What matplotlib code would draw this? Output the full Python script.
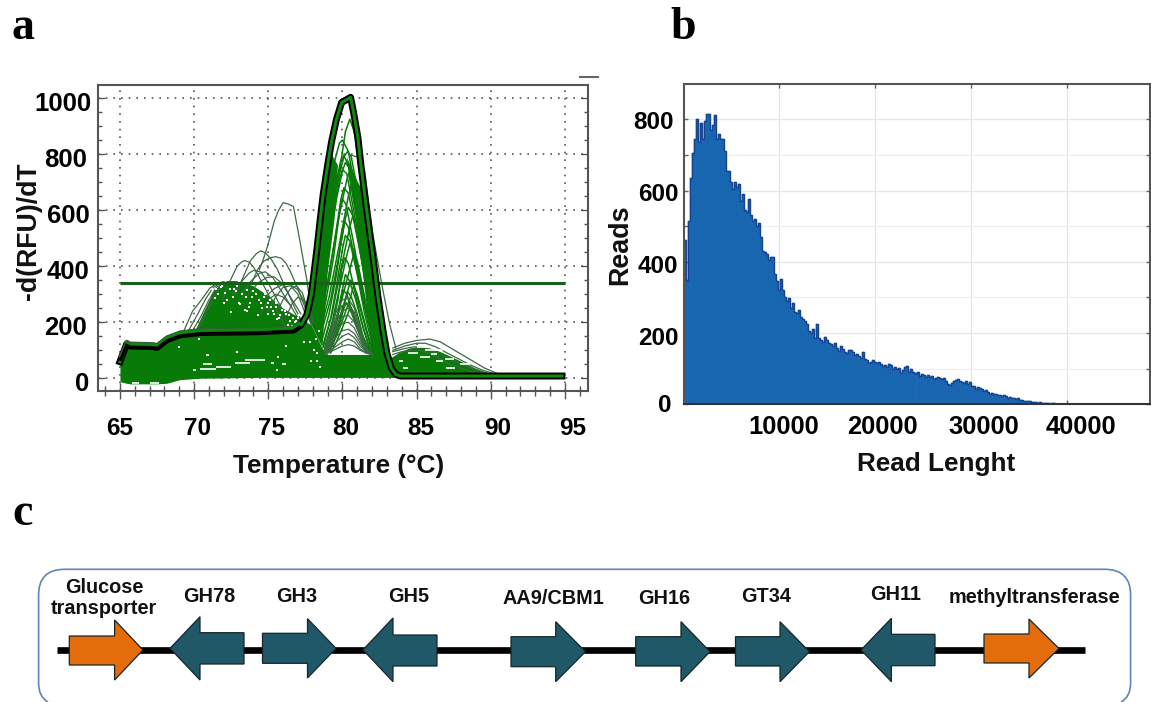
import matplotlib
matplotlib.use("Agg")
import matplotlib.pyplot as plt
from matplotlib.patches import Polygon, PathPatch
from matplotlib.path import Path
from matplotlib.transforms import ScaledTranslation
from matplotlib.ticker import MultipleLocator

W, H = 1151, 702
plt.rcParams['font.family'] = ['Liberation Sans', 'DejaVu Sans']
plt.rcParams['font.weight'] = 'bold'

# ---------- panel a data ----------
MAIN_T = [65, 65.45, 65.7, 67.25, 67.5, 68.15, 69.05, 70.4, 74.4, 76.7, 77.2, 77.6, 77.9, 78.26, 78.5, 78.7, 79, 79.27, 79.6,
          79.95, 80.2, 80.55, 80.75, 81.05, 81.25, 81.5, 81.8, 82.07, 82.4, 82.75, 83, 83.3, 83.6, 83.9, 94.8]
MAIN_V = [59, 122, 115, 113, 110, 137, 155, 163, 166, 172, 190, 226, 297, 452, 565, 655, 760, 845, 925,
          985, 992, 1003, 950, 858, 760, 655, 535, 429, 290, 166, 90, 36, 14, 8, 8]
FLAT_T = [65.05, 65.45, 65.7, 67.25, 67.5, 68.15, 69.05, 70.4, 74.4, 76.7, 77.1]
FLAT_V = [70, 122, 115, 113, 110, 137, 155, 163, 166, 172, 186]
BASE_T = [65, 65.45, 65.7, 67.25, 67.5, 68.15, 69.05, 70.4, 74.4, 76.7, 77.2, 77.6, 77.9, 78.26, 78.6, 79.0, 81.8, 82.2, 82.75, 83.3, 83.9]
BASE_TOP = [59, 122, 115, 113, 110, 137, 155, 163, 166, 172, 190, 200, 190, 150, 110, 85, 85, 150, 166, 36, 8]
BASE_BOT = [-12, -18, -20, -20, -20, -18, -5, 0, 3, 3, 3, 3, 3, 3, 3, 3, 3, 3, 3, 3, 3]
DENSE_T = [70, 70.7, 71.3, 71.7, 72.3, 73, 74, 75, 76, 77, 77.6]
DENSE_V = [165, 245, 312, 332, 345, 345, 330, 295, 250, 220, 205]
LEFT_WALL_T = [77.6, 77.9, 78.26, 78.7, 79.27, 79.7, 79.45, 79.0, 78.65]
LEFT_WALL_V = [226, 297, 452, 655, 800, 760, 560, 370, 110]
RIGHT_WALL_T = [80.3, 81.05, 81.5, 82.07, 82.75, 83.0, 82.0, 81.55, 81.0, 80.45]
RIGHT_WALL_V = [790, 700, 655, 429, 166, 60, 95, 300, 540, 710]
HUMP_T = [83.3, 83.9, 84.5, 85.2, 85.9, 86.6, 87.3, 88.1, 88.9, 89.6, 90.4]
HUMP_V = [75, 95, 108, 114, 108, 95, 78, 58, 38, 24, 10]

# tall melting peaks, one row per well
PEAK_T = [
    [78.0, 78.7, 79.4, 79.8, 80.0, 80.4, 81.0, 81.8, 82.6],
    [78.2, 79.0, 79.7, 80.2, 80.5, 80.8, 81.3, 82.0, 82.8],
    [78.0, 78.8, 79.6, 80.1, 80.35, 80.6, 81.2, 81.9, 82.7],
    [78.1, 78.8, 79.5, 79.9, 80.1, 80.5, 81.0, 81.8, 82.5],
    [78.3, 78.9, 79.6, 80.0, 80.2, 80.6, 81.2, 81.8, 82.6],
    [78.2, 78.9, 79.4, 79.8, 80.0, 80.3, 81.0, 81.6, 82.4],
    [78.4, 79.0, 79.7, 80.3, 80.5, 80.8, 81.3, 81.9, 82.5],
    [78.3, 79.0, 79.5, 79.9, 80.1, 80.4, 81.0, 81.7, 82.4],
    [78.5, 79.1, 79.8, 80.4, 80.6, 80.9, 81.3, 81.9, 82.6],
    [78.4, 78.9, 79.4, 79.8, 80.0, 80.25, 80.8, 81.5, 82.2],
    [78.5, 79.2, 79.7, 80.2, 80.4, 80.7, 81.2, 81.8, 82.4],
    [78.6, 79.1, 79.6, 79.95, 80.15, 80.4, 80.9, 81.5, 82.2],
    [78.7, 79.3, 79.9, 80.5, 80.7, 81.0, 81.4, 81.9, 82.4],
    [78.7, 79.2, 79.6, 80.0, 80.2, 80.5, 81.0, 81.5, 82.1],
    [78.8, 79.3, 79.8, 80.3, 80.5, 80.75, 81.2, 81.7, 82.2],
    [78.8, 79.3, 79.7, 79.95, 80.15, 80.4, 80.8, 81.3, 81.9],
    [78.9, 79.4, 80.0, 80.55, 80.75, 81.0, 81.35, 81.8, 82.3],
    [78.9, 79.4, 79.75, 80.05, 80.2, 80.45, 80.9, 81.4, 81.9],
    [79.0, 79.5, 79.95, 80.4, 80.55, 80.8, 81.15, 81.6, 82.0],
    [79.0, 79.4, 79.7, 79.9, 80.05, 80.3, 80.7, 81.2, 81.7],
    [79.1, 79.6, 80.1, 80.6, 80.75, 81.0, 81.3, 81.7, 82.1],
    [79.0, 79.5, 79.85, 80.2, 80.35, 80.6, 81.0, 81.4, 81.9],
    [79.0, 79.45, 79.8, 80.1, 80.25, 80.45, 80.85, 81.3, 81.8],
    [79.2, 79.6, 80.0, 80.4, 80.55, 80.75, 81.1, 81.5, 81.9],
]
PEAK_V = [
    [240, 500, 760, 840, 850, 810, 640, 330, 90],
    [230, 430, 700, 880, 925, 880, 680, 350, 90],
    [230, 470, 690, 790, 810, 790, 620, 340, 90],
    [225, 450, 680, 780, 795, 750, 600, 300, 100],
    [210, 400, 640, 740, 770, 740, 570, 330, 90],
    [200, 390, 590, 710, 745, 730, 530, 340, 100],
    [200, 340, 560, 710, 740, 710, 560, 320, 130],
    [180, 340, 500, 640, 680, 660, 510, 300, 110],
    [170, 290, 480, 650, 690, 660, 540, 320, 110],
    [170, 280, 430, 590, 640, 620, 470, 270, 100],
    [150, 280, 420, 570, 610, 580, 450, 270, 120],
    [130, 230, 370, 500, 560, 540, 410, 250, 100],
    [120, 230, 390, 540, 580, 550, 440, 280, 130],
    [110, 210, 330, 460, 510, 490, 370, 230, 100],
    [110, 200, 320, 440, 480, 460, 350, 220, 100],
    [100, 180, 280, 390, 430, 410, 320, 200, 95],
    [100, 170, 290, 400, 440, 420, 330, 210, 100],
    [100, 170, 250, 330, 370, 350, 280, 180, 95],
    [95, 160, 240, 320, 350, 330, 260, 170, 95],
    [95, 150, 220, 290, 315, 300, 230, 150, 90],
    [95, 150, 220, 300, 330, 300, 240, 160, 90],
    [95, 145, 210, 280, 310, 290, 230, 150, 90],
    [90, 135, 190, 250, 270, 255, 200, 135, 90],
    [90, 130, 180, 235, 255, 235, 190, 130, 90],
]
ARC_T = [78.8, 79.2, 79.6, 80, 80.4, 80.8, 81.2, 81.6, 82]
ARC_ROWS = [
    [100, 170, 240, 280, 285, 250, 180, 110, 85],
    [95, 160, 220, 260, 265, 235, 170, 105, 85],
    [95, 150, 205, 240, 250, 220, 160, 100, 85],
    [90, 135, 185, 220, 225, 200, 150, 100, 85],
    [90, 125, 170, 195, 200, 180, 135, 95, 85],
    [90, 115, 150, 170, 175, 160, 125, 95, 85],
    [85, 105, 130, 150, 160, 145, 115, 95, 85],
    [85, 100, 115, 130, 140, 130, 105, 90, 85],
    [85, 95, 105, 115, 120, 115, 100, 90, 85],
]
THIN_T = [
    [74.4, 74.7, 75.0, 75.4, 75.7, 76, 76.35, 76.7, 77.1, 77.6, 78],
    [71.9, 72.4, 72.9, 73.2, 73.4, 73.7, 74.0, 74.4, 75, 75.6, 76.2],
    [72.8, 73.3, 73.8, 74.2, 74.5, 74.8, 75.2, 75.6, 76.2, 76.8, 77.4],
    [73.8, 74.3, 74.7, 75.1, 75.5, 75.9, 76.2, 76.5, 77, 77.5, 77.9],
    [72.6, 73.2, 73.7, 74, 74.5, 75, 75.5, 76.2],
    [73.2, 73.8, 74.4, 74.8, 75.3, 75.9, 76.5],
    [73.7, 74.3, 74.9, 75.4, 75.9, 76.5, 77.2],
    [74.8, 75.4, 76, 76.5, 77, 77.5, 77.9],
    [75.0, 75.5, 76.0, 76.5, 77.0, 77.5],
    [75.6, 76.0, 76.5, 76.9, 77.3, 77.7],
    [74.5, 75.0, 75.5, 76.0, 76.5, 77.0],
    [76.2, 76.6, 77.0, 77.4, 77.8],
    [69.3, 69.9, 70.5, 71.06, 71.5, 72],
    [69.6, 70.2, 70.8, 71.3, 71.8, 72.4],
    [69.9, 70.5, 71, 71.5, 72.1, 72.6],
    [70.2, 70.7, 71.2, 71.7, 72.3, 72.9],
    [80.4, 81, 81.5, 82.06, 82.75, 83.2, 83.6],
    [83.4, 84.2, 85, 85.9, 86.6, 87.3, 88.1, 88.9, 89.6, 90.4],
    [83.4, 84.2, 85, 85.6, 86.3, 87, 87.8, 88.6, 89.4, 90.2],
    [83.4, 84.1, 84.8, 85.3, 86, 86.8, 87.6, 88.4, 89.2, 90],
    [83.4, 84, 84.7, 85.2, 85.8, 86.5, 87.2, 88, 88.8, 89.8],
]
THIN_V = [
    [387, 430, 480, 560, 600, 627, 622, 613, 500, 351, 200],
    [280, 345, 400, 415, 420, 415, 398, 360, 300, 240, 180],
    [300, 360, 420, 445, 455, 448, 425, 390, 320, 250, 190],
    [330, 390, 418, 430, 434, 428, 410, 380, 320, 250, 190],
    [300, 345, 375, 385, 380, 340, 290, 220],
    [300, 345, 375, 380, 360, 310, 260],
    [300, 340, 360, 362, 340, 290, 230],
    [290, 320, 335, 335, 315, 270, 220],
    [240, 290, 325, 330, 300, 230],
    [240, 280, 320, 330, 305, 240],
    [230, 280, 300, 290, 260, 215],
    [220, 265, 290, 275, 225],
    [168, 240, 280, 322, 338, 345],
    [168, 225, 285, 325, 340, 345],
    [170, 225, 280, 325, 340, 345],
    [170, 220, 275, 320, 345, 345],
    [800, 790, 738, 511, 309, 190, 108],
    [108, 125, 135, 140, 130, 108, 83, 58, 36, 18],
    [100, 115, 125, 125, 112, 92, 70, 48, 30, 16],
    [95, 105, 112, 112, 100, 80, 60, 42, 26, 14],
    [85, 95, 100, 100, 90, 72, 52, 36, 22, 12],
]
SPECK_T = [71.2, 71.6, 71.8, 72.1, 72.4, 72.6, 72.9, 73.2, 73.4, 73.6, 73.9, 74.2, 74.5, 74.7, 74.9, 75.1, 75.3, 75.5, 75.7,
           75.9, 76.1, 76.2, 76.4, 76.5, 76.7, 76.9, 77, 77.2, 77.3, 72.5, 73, 73.7, 74.3, 75, 75.6, 76.3, 76.8, 77.1,
           77.8, 78.1, 78.3, 77.9, 78.2, 70.3, 69, 72.9, 75.6, 76.2, 77.4, 78.4, 78.5, 78.3,
           71.4, 72.0, 72.3, 72.8, 73.1, 73.5, 74.0, 74.4, 74.8, 75.2, 75.8, 76.0, 71.9, 72.7, 73.3, 73.8, 74.6, 75.4,
           71.0, 71.5, 72.2, 73.6, 75.0, 75.5, 76.6, 77.0]
SPECK_V = [320, 300, 325, 305, 320, 290, 330, 300, 245, 315, 290, 300, 270, 290, 255, 280, 240, 270, 215,
           245, 240, 230, 225, 205, 215, 205, 215, 200, 200, 235, 270, 255, 225, 230, 210, 190, 200, 225,
           130, 100, 60, 60, 140, 140, 110, 95, 30, 115, 130, 170, 40, 90,
           285, 270, 335, 310, 265, 290, 310, 280, 300, 255, 225, 260, 330, 320, 335, 270, 250, 230,
           290, 320, 280, 240, 270, 255, 185, 190]
DASH_T0 = [70.4, 69.9, 71.5, 72.75, 73.4, 70.6, 70.8, 75.2, 75.9, 75.6, 65.8, 67, 83.8, 85.0, 85.2, 86.3, 87, 84.1, 86,
           85.6, 84.4, 87.9, 86.9]
DASH_T1 = [71.5, 70.1, 72.5, 73.8, 74.8, 71.2, 71.0, 75.4, 76.2, 75.7, 66.3, 67.6, 84.1, 85.8, 85.9, 86.8, 87.6, 84.4, 86.4,
           86.8, 85.1, 88.6, 87.5]
DASH_V = [32, 30, 41, 56, 65, 51, 83, 55, 50, 75, -17, -17, 60, 112, 75, 60, 38, 35, 85,
          102, 90, 50, 70]
Y_TICKS_A = [0, 200, 400, 600, 800, 1000]
X_TICKS_A = [65, 70, 75, 80, 85, 90, 95]
THRESHOLD = 340

# ---------- panel b data ----------
READS = [460, 350, 515, 635, 705, 745, 800, 735, 790, 745, 795, 815, 815, 770, 785, 812, 745, 760, 745, 745, 710, 655, 655,
         625, 605, 625, 610, 618, 570, 590, 545, 540, 575, 530, 515, 520, 500, 510, 470, 430, 428, 423, 405, 414, 414, 367,
         345, 320, 353, 320, 300, 290, 298, 270, 285, 260, 255, 265, 245, 240, 235, 225, 205, 200, 210, 185, 225, 185, 180,
         175, 190, 180, 172,
         170, 165, 172, 158, 150, 163, 155, 148, 143, 152,
         152, 148, 138, 142, 135, 130, 147, 128, 125, 115,
         120, 124, 118, 115, 120, 112, 108, 110, 105, 112,
         110, 100, 105, 98, 102, 88, 95, 105, 107, 92,
         98, 92, 88, 84, 90, 80, 85, 81, 78, 82,
         76, 80, 72, 75, 78, 73, 70, 74, 65, 58,
         55, 60, 66, 68, 70, 64, 62, 60, 65, 58,
         63, 50, 52, 44, 48, 46, 42, 38, 40, 34,
         30, 33, 28, 30, 26, 25, 22, 25, 22, 18,
         20, 17, 18, 15, 19, 12, 13, 10, 9, 10,
         8, 7, 7, 6, 5, 6, 4, 3, 3, 3,
         2, 3, 3, 2, 2, 1, 2, 2, 1, 1,
         1, 1, 1, 2, 1, 1, 0, 1, 1, 0,
         0, 1, 0, 1, 0, 0]
BIN_START = 132
BIN_WIDTH = 208
X_TICKS_B = [10000, 20000, 30000, 40000]
Y_TICKS_B = [0, 200, 400, 600, 800]

# ---------- panel c data ----------
GENE_NAMES = ["Glucose\ntransporter", "GH78", "GH3", "GH5", "AA9/CBM1", "GH16", "GT34", "GH11", "methyltransferase"]
GENE_LABEL_X = [104, 209, 297, 409, 553, 664, 766.5, 896, 1034]
GENE_LABEL_Y = [598, 597, 597, 597, 598, 598, 596, 594, 597.5]
GENE_TAIL = [69.3, 244, 262.5, 437, 511, 635.7, 735.5, 935, 984]
GENE_NECK = [114.6, 200, 307.5, 393, 555.7, 681, 780, 891.4, 1029]
GENE_TIP = [143, 170, 336, 363, 585.5, 710, 809.4, 861, 1059]
GENE_SHAFT_TOP = [636, 632.7, 633.3, 635, 636.7, 636.7, 636.7, 634.3, 634]
GENE_SHAFT_BOT = [665, 664, 663.3, 666, 666.7, 666, 666, 665.7, 663]
GENE_HEAD_TOP = [620, 616.7, 618.7, 618, 621.7, 621.7, 621.7, 618.3, 619]
GENE_HEAD_BOT = [680, 680, 678, 681.7, 681.7, 681.7, 681.7, 681.7, 678]
GENE_COLOR = ['#E46C0A', '#215868', '#215868', '#215868', '#215868', '#215868', '#215868', '#215868', '#E46C0A']

GREEN = '#087a08'
DGREEN = '#17601a'
THIN = '#3d6a44'
LABEL = dict(fontweight='bold')


def axes_px(left, top, right, bottom):
    return fig.add_axes([left / W, 1 - bottom / H, (right - left) / W, (bottom - top) / H])


def nudge(labels, dx, dy):
    for lab, a, b in zip(labels, dx, dy):
        lab.set_transform(lab.get_transform() + ScaledTranslation(a / 100, -b / 100, fig.dpi_scale_trans))


fig = plt.figure(figsize=(W / 100, H / 100), dpi=100, facecolor='white')

# ---------- overlay (panel c + letters) ----------
ov = fig.add_axes([0, 0, 1, 1], zorder=0)
ov.set_xlim(0, W)
ov.set_ylim(H, 0)
ov.axis('off')
box_verts = [(48, 702), (38.6, 697), (38.6, 683), (38.6, 595), (38.6, 569.3), (64.6, 569.3), (1104.6, 569.3),
             (1130.6, 569.3), (1130.6, 595), (1130.6, 683), (1130.6, 697), (1121, 702)]
box_codes = [Path.MOVETO, Path.CURVE3, Path.CURVE3, Path.LINETO, Path.CURVE3, Path.CURVE3, Path.LINETO,
             Path.CURVE3, Path.CURVE3, Path.LINETO, Path.CURVE3, Path.CURVE3]
ov.add_patch(PathPatch(Path(box_verts, box_codes), fc='none', ec='#5f86b2', lw=1.2))
ov.plot([57.5, 1085], [650, 650], color='black', lw=4.8, solid_capstyle='butt')
for i, name in enumerate(GENE_NAMES):
    xs = [GENE_TAIL[i], GENE_NECK[i], GENE_NECK[i], GENE_TIP[i], GENE_NECK[i], GENE_NECK[i], GENE_TAIL[i]]
    mid = (GENE_HEAD_TOP[i] + GENE_HEAD_BOT[i]) / 2
    ys = [GENE_SHAFT_TOP[i], GENE_SHAFT_TOP[i], GENE_HEAD_TOP[i], mid, GENE_HEAD_BOT[i], GENE_SHAFT_BOT[i], GENE_SHAFT_BOT[i]]
    ov.add_patch(Polygon(list(zip(xs, ys)), closed=True, fc=GENE_COLOR[i], ec='#16262b', lw=0.9, zorder=3))
    ov.text(GENE_LABEL_X[i], GENE_LABEL_Y[i], name, ha='center', va='center', fontsize=14.3, linespacing=1.16,
            color='#111111', **LABEL)
for ch, x, y in [('a', 12, 39), ('b', 670, 39), ('c', 12, 525)]:
    ov.text(x, y, ch, family=['Liberation Serif'], fontsize=33, fontweight='bold', ha='left', va='baseline', color='black')
ov.plot([580, 598], [77, 77], color='#666666', lw=1.5)

# ---------- panel a ----------
ax = axes_px(98, 85, 588, 391)
ax.set_zorder(2)
ax.set_xlim(63.52, 96.56)
ax.set_ylim(-45.5, 1047)
ax.set_xticks(X_TICKS_A)
ax.set_yticks(Y_TICKS_A)
ax.xaxis.set_minor_locator(MultipleLocator(1))
ax.yaxis.set_minor_locator(MultipleLocator(50))
ax.grid(True, which='major', color='#555555', ls=(0, (1, 3.6)), lw=1.2, zorder=0)
ax.set_axisbelow(True)
for s in ax.spines.values():
    s.set_color('#555555')
    s.set_linewidth(1.5)
ax.tick_params(axis='x', which='major', direction='inout', length=11, width=1, color='#555555', labelsize=17.5, pad=13)
ax.tick_params(axis='x', which='minor', direction='inout', length=7, width=1, color='#555555')
ax.tick_params(axis='y', which='major', direction='in', length=5, width=1, color='#555555', labelsize=18.5, pad=6,
               right=True)
ax.tick_params(axis='y', which='minor', direction='in', length=3, width=1, color='#555555', right=True)
ax.fill_between(BASE_T, BASE_BOT, BASE_TOP, color=GREEN, lw=0, zorder=2)
ax.fill_between(DENSE_T, 100, DENSE_V, color=GREEN, lw=0, zorder=2)
ax.fill(LEFT_WALL_T, LEFT_WALL_V, color=GREEN, lw=0, zorder=2)
ax.fill(RIGHT_WALL_T, RIGHT_WALL_V, color=GREEN, lw=0, zorder=2)
ax.fill_between(HUMP_T, 5, HUMP_V, color=GREEN, lw=0, zorder=2)
for t, v in zip(PEAK_T, PEAK_V):
    ax.plot(t, v, color=GREEN, lw=1.1, zorder=2.2)
for row in ARC_ROWS:
    ax.plot(ARC_T, row, color=THIN, lw=0.9, zorder=2.2)
for t, v in zip(THIN_T, THIN_V):
    ax.plot(t, v, color=THIN, lw=0.9, zorder=2.2)
ax.scatter(SPECK_T, SPECK_V, s=2.2, c='white', marker='s', lw=0, zorder=2.6)
ax.hlines(DASH_V, DASH_T0, DASH_T1, color='white', lw=1.2, zorder=2.6)
ax.plot([65, 95], [THRESHOLD, THRESHOLD], color=DGREEN, lw=2.2, zorder=3, solid_capstyle='butt')
ax.plot(MAIN_T, MAIN_V, color='black', lw=5.0, zorder=4, solid_joinstyle='round')
ax.plot(MAIN_T, MAIN_V, color='#0f8a0f', lw=2.2, zorder=5, solid_joinstyle='round')
# on the flat shoulder the melt curve is a thin dark upper edge, green, then a heavy black lower edge
ax.plot(FLAT_T, [v + 9 for v in FLAT_V], color='#0f8a0f', lw=2.2, zorder=5.1)
ax.plot(FLAT_T, [v + 14 for v in FLAT_V], color='#2f5f35', lw=0.8, zorder=5.2)
ax.plot(FLAT_T, [v - 3 for v in FLAT_V], color='black', lw=2.0, zorder=5.3)
ax.set_xlabel('Temperature (°C)', fontsize=18.9, fontweight='bold', color='#111111')
ax.xaxis.set_label_coords((339 - 98) / 490, -(466 - 391) / 306, transform=ax.transAxes)
ax.xaxis.label.set_va('center')
ax.set_ylabel('-d(RFU)/dT', fontsize=19.2, fontweight='bold', color='#111111')
ax.yaxis.set_label_coords((29 - 98) / 490, 1 - (231 - 85) / 306, transform=ax.transAxes)
ax.yaxis.label.set_va('center')
nudge(ax.get_xticklabels(), [0, 3, 3, 3, 4, 7, 8], [0] * 7)
nudge(ax.get_yticklabels(), [0, -3, 0, 0, -3, 2], [3, 3, 3, 3, 3, 3])

# ---------- panel b ----------
bx = axes_px(684, 84, 1150, 404.3)
bx.set_zorder(2)
bx.set_xlim(BIN_START, 48700)
bx.set_ylim(0, 899)
bx.set_xticks(X_TICKS_B)
bx.set_yticks(Y_TICKS_B)
bx.yaxis.set_minor_locator(MultipleLocator(100))
bx.grid(True, which='major', color='#e6e6e6', lw=0.9)
bx.grid(True, which='minor', axis='y', color='#eeeeee', lw=0.9)
bx.set_axisbelow(True)
for s in bx.spines.values():
    s.set_color('#555555')
    s.set_linewidth(1.5)
bx.spines['bottom'].set_color('#333333')
centers = [BIN_START + BIN_WIDTH * (i + 0.5) for i in range(len(READS))]
bx.bar(centers, READS, width=BIN_WIDTH, color='#1260ad', edgecolor='#2a72b8', lw=0.35, zorder=2)
bx.step(centers, READS, where='mid', color='#15458f', lw=1.0, zorder=2.5)
bx.tick_params(axis='x', which='major', direction='in', length=3, width=1, color='#666666', labelsize=18.4, pad=8, top=True)
bx.tick_params(axis='y', which='major', direction='in', length=3, width=1, color='#666666', labelsize=17.5, pad=4, right=True)
bx.tick_params(axis='y', which='minor', direction='in', length=3, width=1, color='#666666', right=True)
bx.set_xlabel('Read Lenght', fontsize=18.8, fontweight='bold', color='#111111')
bx.xaxis.set_label_coords((936 - 684) / 466, -(464 - 404.3) / 320.3, transform=bx.transAxes)
bx.xaxis.label.set_va('center')
bx.set_ylabel('Reads', fontsize=19.4, fontweight='bold', color='#111111')
bx.yaxis.set_label_coords((620 - 684) / 466, 1 - (245 - 84) / 320.3, transform=bx.transAxes)
bx.yaxis.label.set_va('center')
nudge(bx.get_xticklabels(), [5, 8, 13, 14], [0] * 4)
nudge(bx.get_yticklabels(), [-7, 0, 0, 0, -5], [-1, 3, 2, 1, 1])

fig.savefig('out.png', dpi=100)
